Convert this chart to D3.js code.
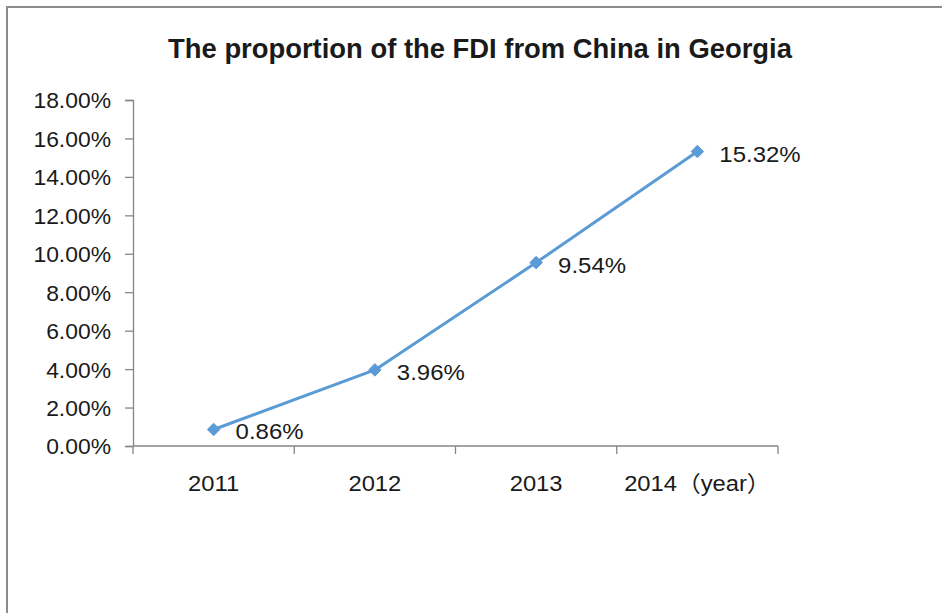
<!DOCTYPE html>
<html>
<head>
<meta charset="utf-8">
<script src="https://cdn.jsdelivr.net/npm/d3@7"></script>
<style>
  html, body { margin: 0; padding: 0; background: #fff; }
  svg { display: block; }
  text { font-family: "Liberation Sans", Arial, "Noto Sans CJK SC", sans-serif; fill: #1a1a1a; }
</style>
</head>
<body>
<svg id="chart" width="942" height="613"></svg>
<script>
// Chart data
const title = "The proportion of the FDI from China in Georgia";
const years = ["2011", "2012", "2013", "2014"];
const yearLabels = ["2011", "2012", "2013", "2014\uFF08year\uFF09"];
const shares = [0.86, 3.96, 9.54, 15.32];          // percent
const yTicks = [0, 2, 4, 6, 8, 10, 12, 14, 16, 18];  // percent

const svg = d3.select("#chart");
const W = 942, H = 613;

// Widen a text element horizontally around its own anchor point
function widen(sel, s) {
  sel.attr("transform", function () {
    const t = d3.select(this);
    const tx = +t.attr("x") || 0, ty = +t.attr("y") || 0;
    return `translate(${tx},${ty}) scale(${s},1) translate(${-tx},${-ty})`;
  });
}

// Chart frame (left and top edges)
svg.append("path")
  .attr("d", `M7,${H} L7,7 L${W},7`)
  .attr("fill", "none")
  .attr("stroke", "#8c8c8c")
  .attr("stroke-width", 2);

const plot = { left: 133, right: 778, top: 100, bottom: 446 };

const x = d3.scaleBand().domain(years).range([plot.left, plot.right]);
const y = d3.scaleLinear().domain([0, 18]).range([plot.bottom, plot.top]);

// Title
svg.append("text")
  .attr("x", 480).attr("y", 58)
  .attr("text-anchor", "middle")
  .style("font-size", "27px")
  .style("font-weight", "bold")
  .text(title)
  .call(widen, 1.015);

// Y axis
const yAxis = d3.axisLeft(y)
  .tickValues(yTicks)
  .tickFormat(d => d.toFixed(2) + "%")
  .tickSize(8)
  .tickPadding(14);
const gy = svg.append("g")
  .attr("transform", `translate(${plot.left},0)`)
  .call(yAxis);
gy.select(".domain").attr("stroke", "#868686").attr("stroke-width", 1.3);
gy.selectAll(".tick line").attr("stroke", "#868686").attr("stroke-width", 1.3);
gy.selectAll(".tick text")
  .style("font-size", "22px")
  .style("font-family", "'Liberation Sans', Arial, sans-serif")
  .attr("fill", "#1a1a1a")
  .attr("dy", "0.36em")
  .call(widen, 1.04);

// X axis with ticks on category boundaries
const gx = svg.append("g")
  .attr("transform", `translate(0,${plot.bottom})`);
gx.append("line")
  .attr("x1", plot.left).attr("x2", plot.right)
  .attr("stroke", "#868686").attr("stroke-width", 1.3);
const bounds = years.map(d => x(d)).concat([x(years[years.length - 1]) + x.bandwidth()]);
gx.selectAll("line.tick")
  .data(bounds)
  .join("line")
  .attr("class", "tick")
  .attr("x1", d => d).attr("x2", d => d)
  .attr("y1", 0).attr("y2", 8)
  .attr("stroke", "#868686").attr("stroke-width", 1.3);
gx.selectAll("text")
  .data(years)
  .join("text")
  .attr("x", d => x(d) + x.bandwidth() / 2)
  .attr("y", 45)
  .attr("text-anchor", "middle")
  .style("font-size", "22px")
  .text((d, i) => yearLabels[i])
  .call(widen, 1.08);

// Line series
const cx = d => x(d) + x.bandwidth() / 2;
const line = d3.line()
  .x((d, i) => cx(years[i]))
  .y(d => y(d));

svg.append("path")
  .datum(shares)
  .attr("d", line)
  .attr("fill", "none")
  .attr("stroke", "#5b9bd5")
  .attr("stroke-width", 3)
  .attr("stroke-linejoin", "round");

// Diamond markers
svg.selectAll("path.marker")
  .data(shares)
  .join("path")
  .attr("class", "marker")
  .attr("d", d3.symbol(d3.symbolDiamond2, 100))
  .attr("transform", (d, i) => `translate(${cx(years[i])},${y(d)})`)
  .attr("fill", "#5b9bd5")
  .attr("stroke", "#5b9bd5")
  .attr("stroke-width", 1);

// Data labels
svg.selectAll("text.value")
  .data(shares)
  .join("text")
  .attr("class", "value")
  .attr("x", (d, i) => cx(years[i]) + 22)
  .attr("y", d => y(d) + 10)
  .style("font-size", "22px")
  .text(d => d.toFixed(2) + "%")
  .call(widen, 1.09);
</script>
</body>
</html>
